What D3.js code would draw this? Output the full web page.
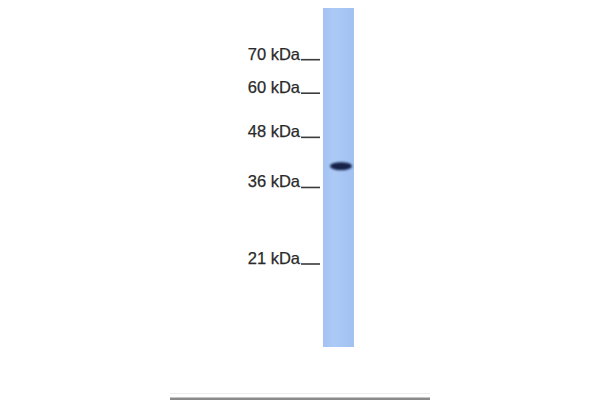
<!DOCTYPE html>
<html>
<head>
<meta charset="utf-8">
<script src="https://cdn.jsdelivr.net/npm/d3@7"></script>
<style>
  html, body { margin: 0; padding: 0; background: #ffffff; }
  svg { display: block; }
</style>
</head>
<body>
<svg id="chart" width="600" height="400"></svg>
<script>
// ---- data ----
const markerValues = [70, 60, 48, 36, 21];
const markerLabels = ["70 kDa", "60 kDa", "48 kDa", "36 kDa", "21 kDa"];
const bandValues = [40.9];        // observed band (kDa)
const bandIntensity = [1.0];

// ---- layout ----
const W = 600, H = 400;
const svg = d3.select("#chart");

const y = d3.scaleSqrt().domain([21, 70]).range([264, 59.7]);

const lane = { x0: 323, x1: 354, top: 8, bottom: 347 };

// lane gradient
const defs = svg.append("defs");
const lg = defs.append("linearGradient").attr("id", "laneGrad")
  .attr("x1", "0%").attr("x2", "100%").attr("y1", "0%").attr("y2", "0%");
lg.append("stop").attr("offset", "0%").attr("stop-color", "#a3c2f2");
lg.append("stop").attr("offset", "35%").attr("stop-color", "#adcaf6");
lg.append("stop").attr("offset", "70%").attr("stop-color", "#a6c5f4");
lg.append("stop").attr("offset", "100%").attr("stop-color", "#a2c1f1");

const bf = defs.append("filter").attr("id", "blur").attr("x", "-50%").attr("y", "-50%").attr("width", "200%").attr("height", "200%");
bf.append("feGaussianBlur").attr("stdDeviation", 0.8);

svg.append("rect")
  .attr("x", lane.x0).attr("y", lane.top)
  .attr("width", lane.x1 - lane.x0).attr("height", lane.bottom - lane.top)
  .attr("fill", "url(#laneGrad)");

// band
svg.selectAll("ellipse.band").data(bandValues).enter().append("ellipse")
  .attr("class", "band")
  .attr("cx", (lane.x0 + lane.x1) / 2 + 2.5)
  .attr("cy", d => y(d))
  .attr("rx", 11).attr("ry", 4)
  .attr("fill", "#12214a")
  .attr("opacity", (d, i) => bandIntensity[i])
  .attr("filter", "url(#blur)");

// markers
const mk = svg.selectAll("g.marker").data(markerValues).enter().append("g")
  .attr("class", "marker")
  .attr("transform", d => `translate(0,${y(d)})`);

mk.append("text")
  .attr("x", 300).attr("y", 0)
  .attr("text-anchor", "end")
  .attr("font-family", "Liberation Sans, Arial, sans-serif")
  .attr("font-size", 16.5)
  .attr("fill", "#2a2a2a")
  .attr("stroke", "#2a2a2a").attr("stroke-width", 0.25)
  .text((d, i) => markerLabels[i]);

mk.append("line")
  .attr("x1", 301).attr("x2", 320)
  .attr("y1", 0).attr("y2", 0)
  .attr("stroke", "#3a3a3a").attr("stroke-width", 1.6);

// bottom rule
svg.append("rect")
  .attr("x", 170).attr("y", 397.5).attr("width", 260).attr("height", 2.5)
  .attr("fill", "#8a8a8a");
svg.append("rect")
  .attr("x", 170).attr("y", 393).attr("width", 260).attr("height", 1)
  .attr("fill", "#eeeeee");
</script>
</body>
</html>
